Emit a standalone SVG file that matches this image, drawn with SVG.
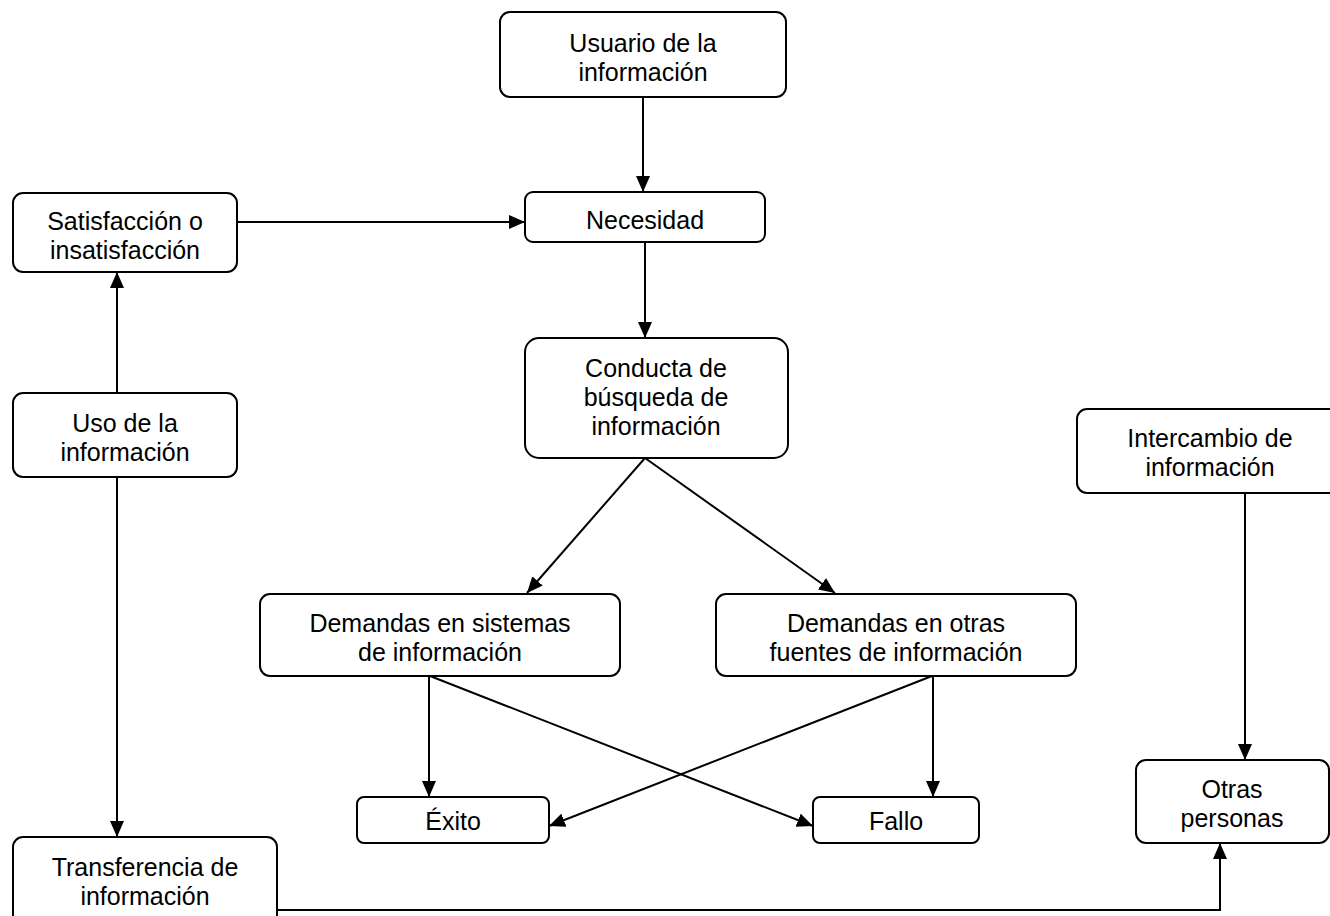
<svg xmlns="http://www.w3.org/2000/svg" width="1330" height="916" viewBox="0 0 1330 916">
<defs>
<marker id="ah" markerUnits="userSpaceOnUse" markerWidth="16" markerHeight="14" viewBox="0 0 16 14" refX="16" refY="7" orient="auto">
<path d="M0,0 L16,7 L0,14 z" fill="#000"/>
</marker>
<style>
.box{fill:#fff;stroke:#000;stroke-width:2}
.t{font-family:"Liberation Sans",Arial,sans-serif;font-size:25px;fill:#000;text-anchor:middle}
.c{fill:none;stroke:#000;stroke-width:2}
.a{marker-end:url(#ah)}
</style>
</defs>
<rect width="1330" height="916" fill="#fff"/>
<g id="connectors">
<line class="c a" x1="643" y1="97" x2="643" y2="192"/>
<line class="c a" x1="237" y1="222" x2="525" y2="222"/>
<line class="c a" x1="645" y1="242" x2="645" y2="338"/>
<line class="c a" x1="645" y1="458" x2="527" y2="593"/>
<line class="c a" x1="645" y1="458" x2="835" y2="593"/>
<line class="c a" x1="429" y1="676" x2="429" y2="797"/>
<line class="c a" x1="430" y1="676" x2="813" y2="826"/>
<line class="c a" x1="933" y1="676" x2="933" y2="797"/>
<line class="c a" x1="932" y1="676" x2="549" y2="826"/>
<line class="c a" x1="117" y1="393" x2="117" y2="272"/>
<line class="c a" x1="117" y1="477" x2="117" y2="837"/>
<line class="c a" x1="1245" y1="493" x2="1245" y2="760"/>
<polyline class="c a" points="277,910 1220,910 1220,843"/>
</g>
<g id="usuario"><rect class="box" x="500" y="12" width="286" height="85" rx="10"/><text class="t" x="643" y="52">Usuario de la</text><text class="t" x="643" y="81">información</text></g>
<g id="necesidad"><rect class="box" x="525" y="192" width="240" height="50" rx="8"/><text class="t" x="645" y="229">Necesidad</text></g>
<g id="satisfaccion"><rect class="box" x="13" y="193" width="224" height="79" rx="10"/><text class="t" x="125" y="230">Satisfacción o</text><text class="t" x="125" y="259">insatisfacción</text></g>
<g id="conducta"><rect class="box" x="525" y="338" width="263" height="120" rx="14"/><text class="t" x="656" y="377">Conducta de</text><text class="t" x="656" y="406">búsqueda de</text><text class="t" x="656" y="435">información</text></g>
<g id="uso"><rect class="box" x="13" y="393" width="224" height="84" rx="10"/><text class="t" x="125" y="432">Uso de la</text><text class="t" x="125" y="461">información</text></g>
<g id="intercambio"><rect class="box" x="1077" y="409" width="280" height="84" rx="10"/><text class="t" x="1210" y="447">Intercambio de</text><text class="t" x="1210" y="476">información</text></g>
<g id="sistemas"><rect class="box" x="260" y="594" width="360" height="82" rx="10"/><text class="t" x="440" y="632">Demandas en sistemas</text><text class="t" x="440" y="661">de información</text></g>
<g id="otras-fuentes"><rect class="box" x="716" y="594" width="360" height="82" rx="10"/><text class="t" x="896" y="632">Demandas en otras</text><text class="t" x="896" y="661">fuentes de información</text></g>
<g id="exito"><rect class="box" x="357" y="797" width="192" height="46" rx="7"/><text class="t" x="453" y="830">Éxito</text></g>
<g id="fallo"><rect class="box" x="813" y="797" width="166" height="46" rx="7"/><text class="t" x="896" y="830">Fallo</text></g>
<g id="otras-personas"><rect class="box" x="1136" y="760" width="193" height="83" rx="10"/><text class="t" x="1232" y="798">Otras</text><text class="t" x="1232" y="827">personas</text></g>
<g id="transferencia"><rect class="box" x="13" y="837" width="264" height="100" rx="10"/><text class="t" x="145" y="876">Transferencia de</text><text class="t" x="145" y="905">información</text></g>
</svg>
